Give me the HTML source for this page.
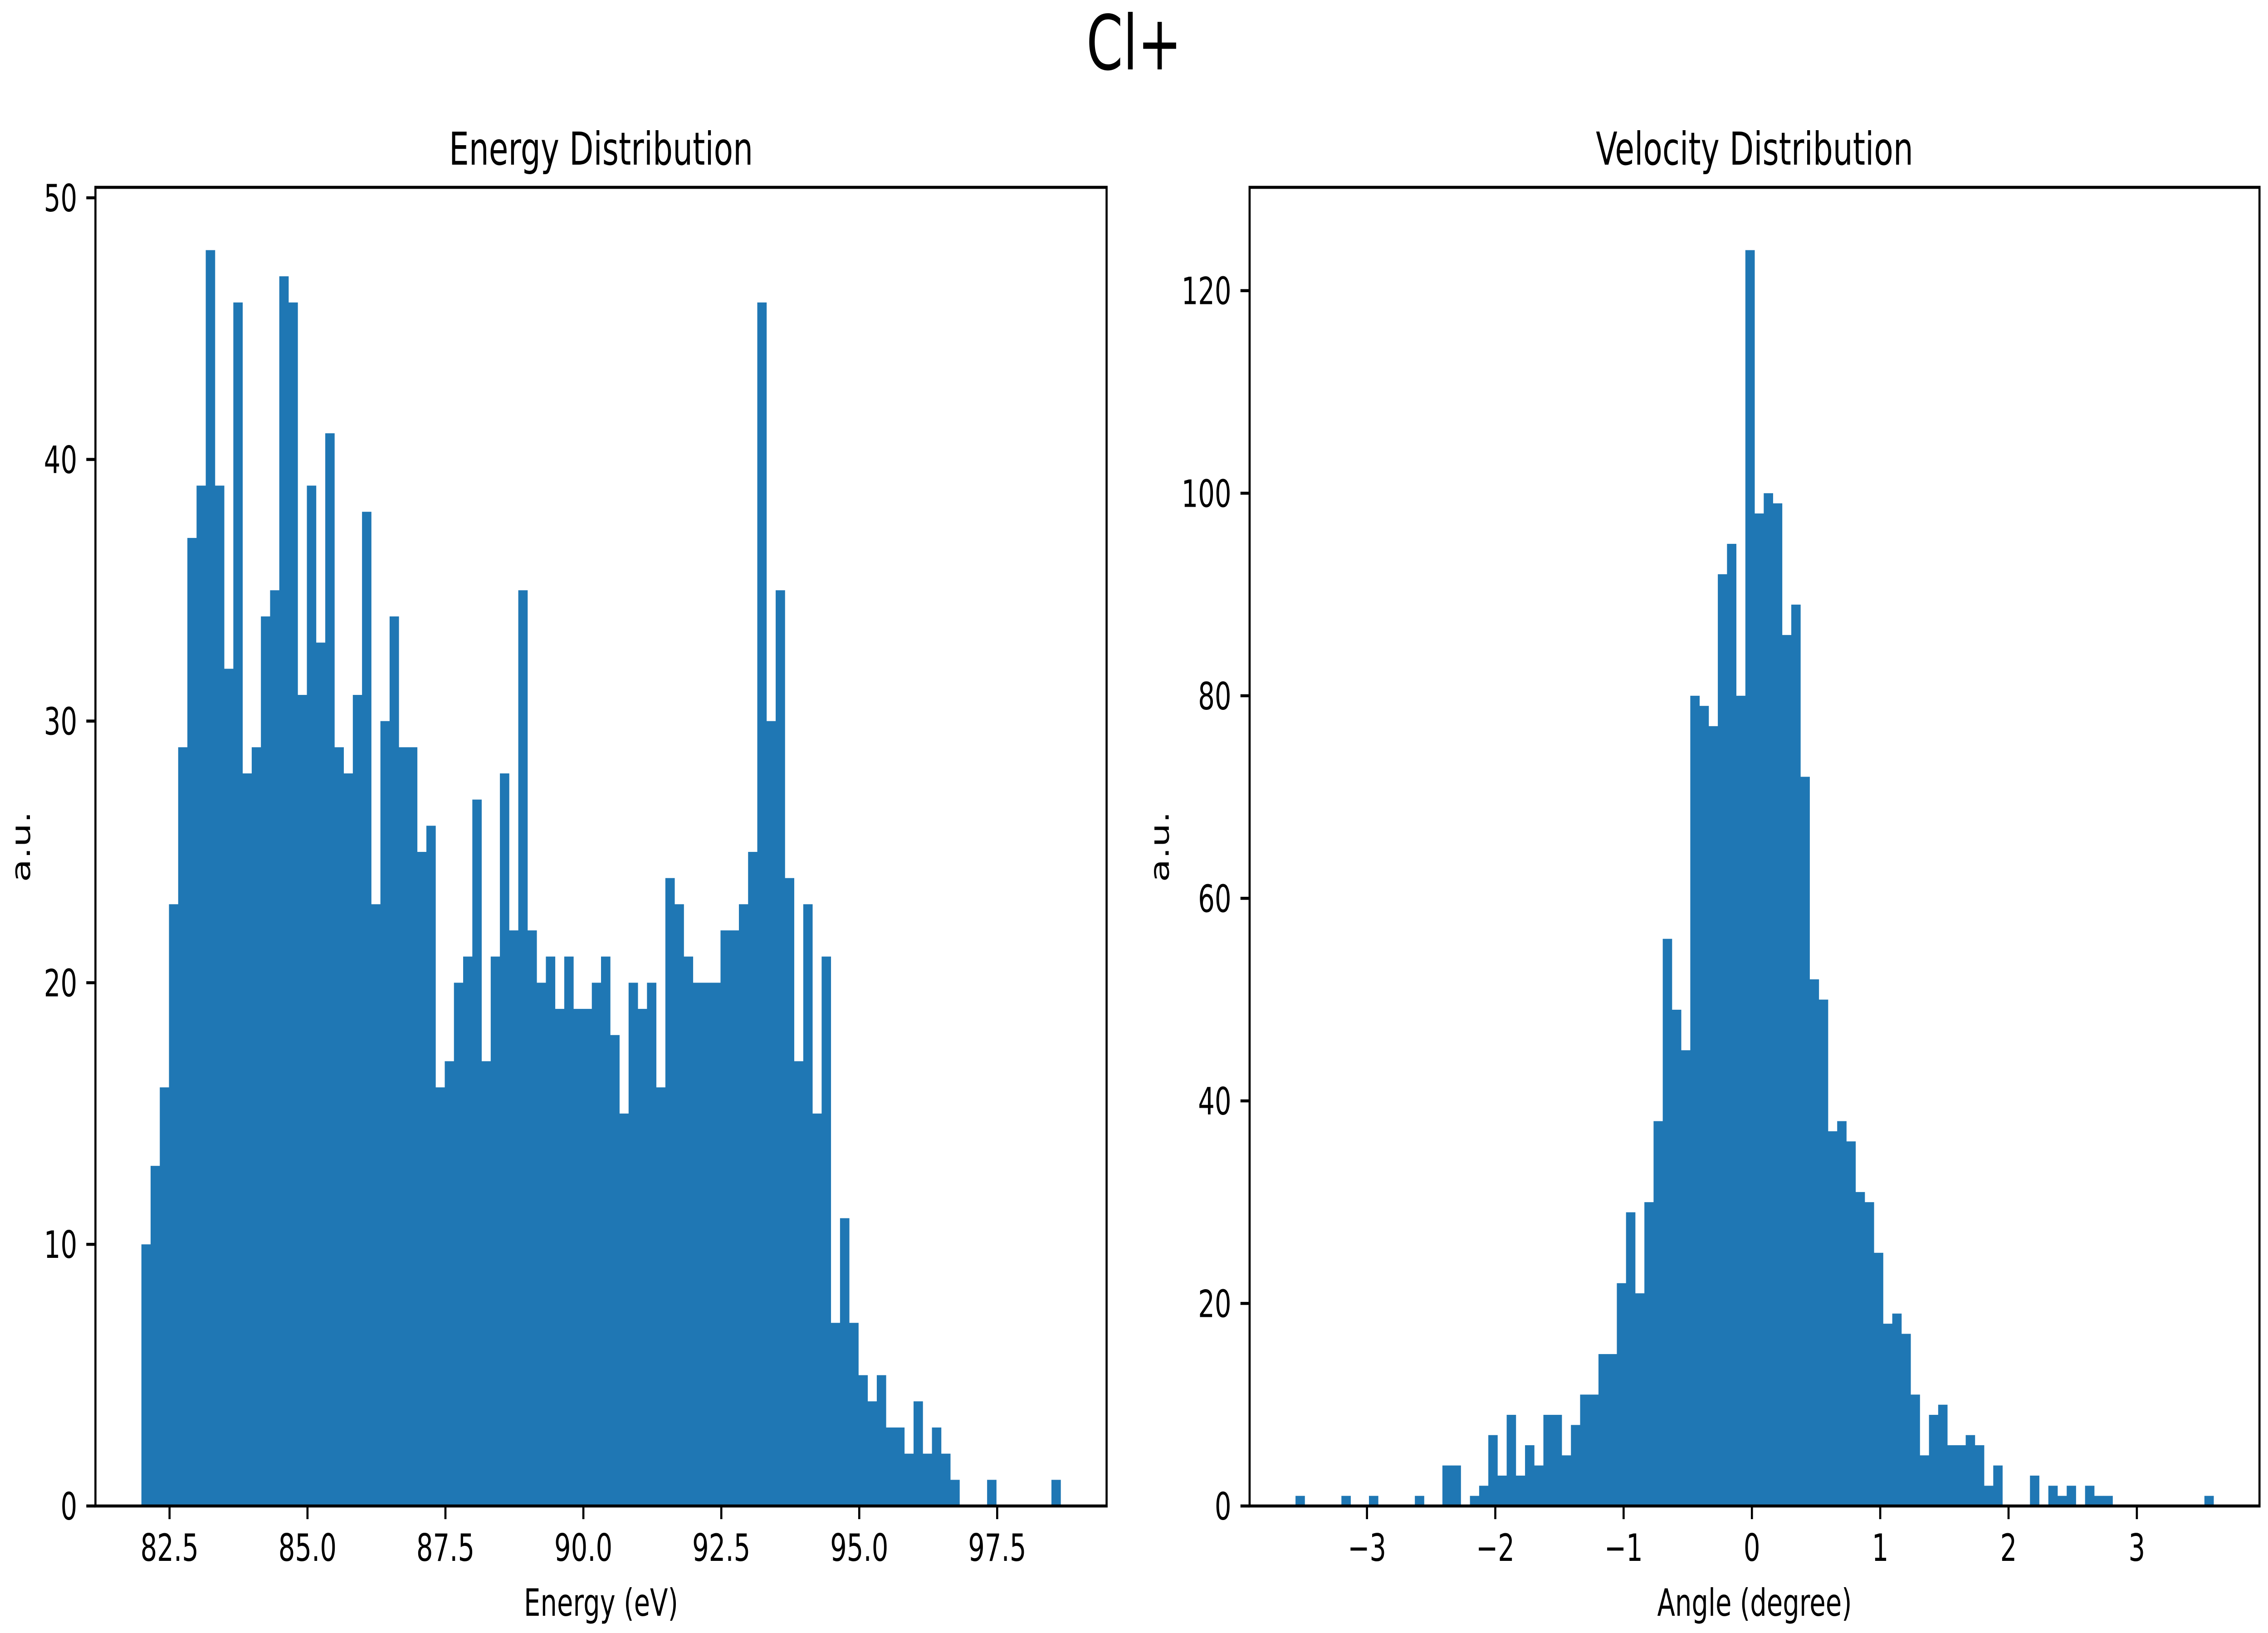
<!DOCTYPE html>
<html><head><meta charset="utf-8">
<style>
html,body{margin:0;padding:0;background:#fff;width:100%;height:100%;overflow:hidden;}
svg{display:block;position:fixed;left:0;top:0;width:100vw;height:100vh;font-family:"DejaVu Sans","Liberation Sans",sans-serif;}
</style></head>
<body>
<svg id="fig" viewBox="0 0 7200 3600" preserveAspectRatio="none" xmlns="http://www.w3.org/2000/svg">
<rect x="0" y="0" width="7200" height="3600" fill="#fff"/>
<text x="3600" y="153" font-size="167" text-anchor="middle">Cl+</text>
<g id="left"></g>
<g id="right"></g>
</svg>
<script>
const energyCounts = [10,13,16,23,29,37,39,48,39,32,46,28,29,34,35,47,46,31,39,33,41,29,28,31,38,23,30,34,29,29,25,26,16,17,20,21,27,17,21,28,22,35,22,20,21,19,21,19,19,20,21,18,15,20,19,20,16,24,23,21,20,20,20,22,22,23,25,46,30,35,24,17,23,15,21,7,11,7,5,4,5,3,3,2,4,2,3,2,1,0,0,0,1,0,0,0,0,0,0,1];
const energyRange = [81.99, 98.65];
const energyXTicks = [82.5, 85.0, 87.5, 90.0, 92.5, 95.0, 97.5];
const energyXTickLabels = ["82.5","85.0","87.5","90.0","92.5","95.0","97.5"];
const energyYTicks = [0,10,20,30,40,50];

const angleCounts = [1,0,0,0,0,1,0,0,1,0,0,0,0,1,0,0,4,4,0,1,2,7,3,9,3,6,4,9,9,5,8,11,11,15,15,22,29,21,30,38,56,49,45,80,79,77,92,95,80,124,98,100,99,86,89,72,52,50,37,38,36,31,30,25,18,19,17,11,5,9,10,6,6,7,6,2,4,0,0,0,3,0,2,1,2,0,2,1,1,0,0,0,0,0,0,0,0,0,0,1];
const angleRange = [-3.557, 3.598];
const angleXTicks = [-3,-2,-1,0,1,2,3];
const angleXTickLabels = ["\u22123","\u22122","\u22121","0","1","2","3"];
const angleYTicks = [0,20,40,60,80,100,120];

const NS = "http://www.w3.org/2000/svg";
function mk(tag, attrs, parent){
  const e = document.createElementNS(NS, tag);
  for (const k in attrs) e.setAttribute(k, attrs[k]);
  parent.appendChild(e);
  return e;
}
function panel(g, box, counts, range, xticks, xlabels, yticks, title, xlabel, ylabelX, key){
  const n = counts.length;
  const w = (range[1]-range[0])/n;
  const pad = (range[1]-range[0])*0.05;
  const x0 = range[0]-pad, x1 = range[1]+pad;
  const ymax = Math.max(...counts)*1.05;
  const sx = v => box.l + (v-x0)/(x1-x0)*(box.r-box.l);
  const sy = v => box.b - v/ymax*(box.b-box.t);
  counts.forEach((c,i)=>{
    if (c<=0) return;
    const xa = sx(range[0]+i*w), xb = sx(range[0]+(i+1)*w);
    const r = mk('rect',{x:xa,y:sy(c),width:xb-xa+0.6,height:sy(0)-sy(c),fill:'#1f77b4'},g);
    
    
  });
  const fr = mk('rect',{x:box.l,y:box.t,width:box.r-box.l,height:box.b-box.t,fill:'none',stroke:'#000','stroke-width':6.67},g);
  
  
  xticks.forEach((t,i)=>{
    const x = sx(t);
    const tk = mk('line',{x1:x,x2:x,y1:box.b,y2:box.b+29,stroke:'#000','stroke-width':6.67},g);
    
    
    const tx = mk('text',{x:x,y:box.b+29+29+63,'font-size':83,'text-anchor':'middle'},g);
    tx.textContent = xlabels[i];
    
    
  });
  yticks.forEach(t=>{
    const y = sy(t);
    const tk = mk('line',{x1:box.l-29,x2:box.l,y1:y,y2:y,stroke:'#000','stroke-width':6.67},g);
    
    
    const tx = mk('text',{x:box.l-58,y:y+30,'font-size':83,'text-anchor':'end'},g);
    tx.textContent = String(t);
    
    
  });
  const cx = (box.l+box.r)/2;
  const tt = mk('text',{x:cx,y:box.t-50,'font-size':100,'text-anchor':'middle'},g);
  tt.textContent = title;
  
  
  const xl = mk('text',{x:cx,y:3562,'font-size':83,'text-anchor':'middle'},g);
  xl.textContent = xlabel;
  
  
  const cy = (box.t+box.b)/2;
  const yl = mk('text',{x:ylabelX,y:cy,'font-size':83,'text-anchor':'middle',transform:'rotate(-90 '+ylabelX+' '+cy+')'},g);
  yl.textContent = 'a.u.';
  
  
}
panel(document.getElementById('left'), {l:303,r:3513,t:413,b:3320}, energyCounts, energyRange, energyXTicks, energyXTickLabels, energyYTicks, 'Energy Distribution', 'Energy (eV)', 95, 'energy');
panel(document.getElementById('right'), {l:3967,r:7173,t:413,b:3320}, angleCounts, angleRange, angleXTicks, angleXTickLabels, angleYTicks, 'Velocity Distribution', 'Angle (degree)', 3710, 'velocity');
</script>
</body></html>
